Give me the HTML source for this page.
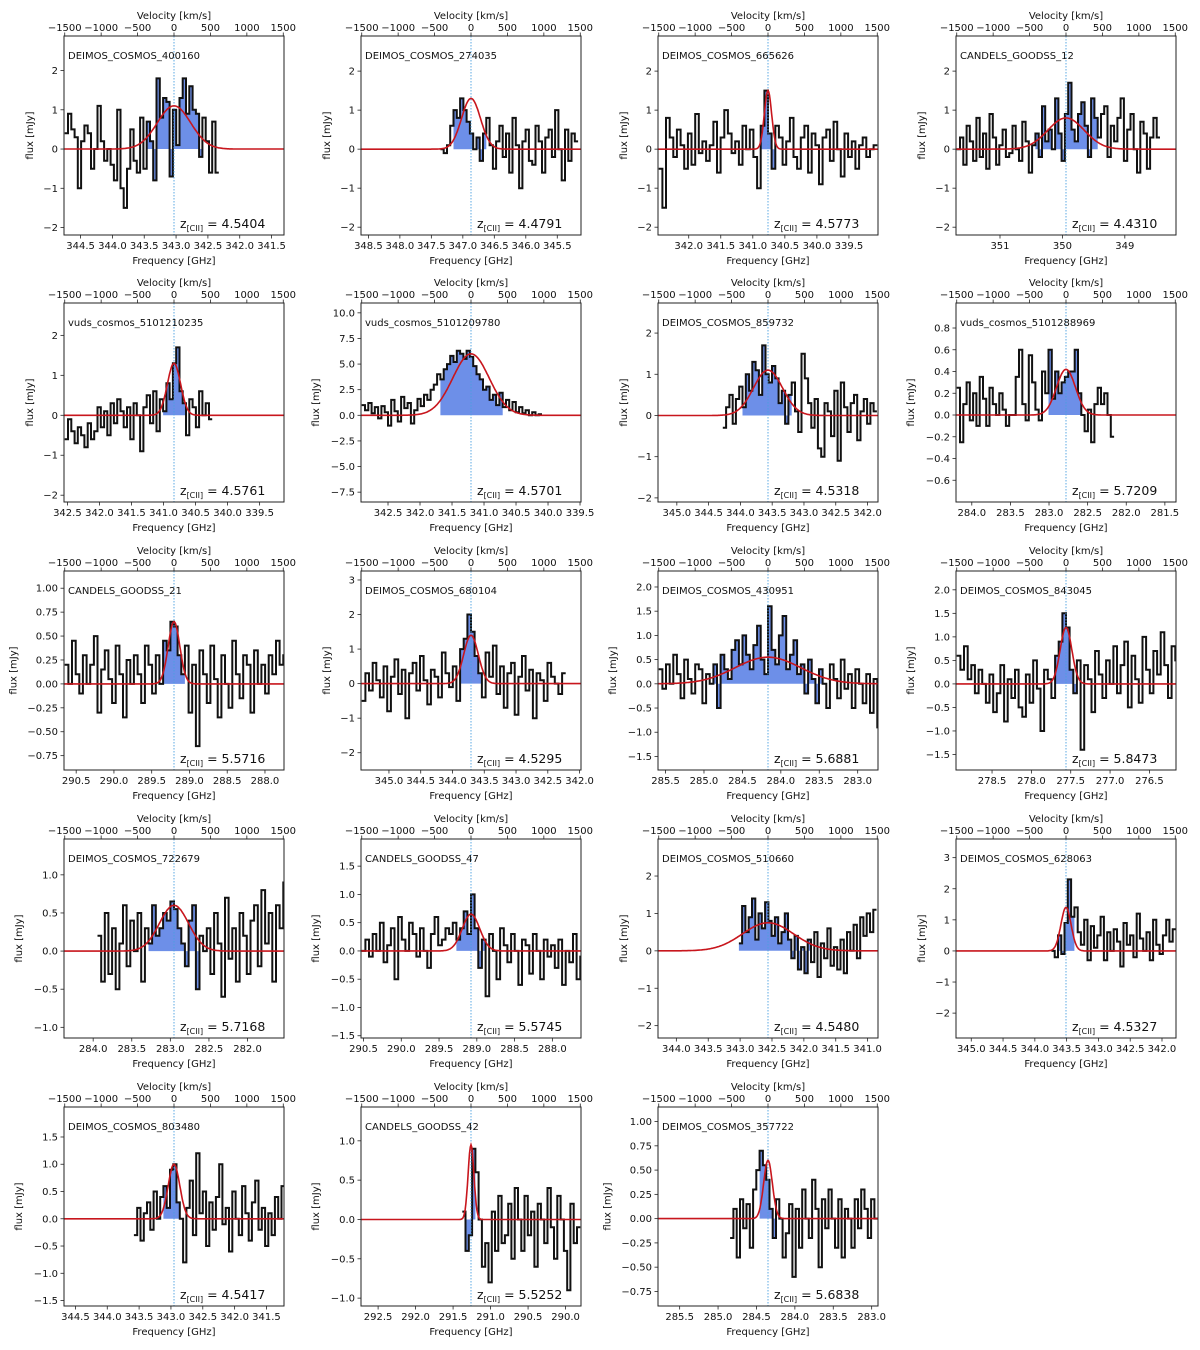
<!DOCTYPE html>
<html><head><meta charset="utf-8">
<style>
html,body{margin:0;padding:0;background:#fff;}
svg{display:block;font-family:"DejaVu Sans","Liberation Sans",sans-serif;}
</style></head>
<body>
<svg id="fig" width="1200" height="1350" viewBox="0 0 1200 1350" xmlns="http://www.w3.org/2000/svg"></svg>
<script>
const names = ["DEIMOS_COSMOS_400160","DEIMOS_COSMOS_274035","DEIMOS_COSMOS_665626","CANDELS_GOODSS_12",
"vuds_cosmos_5101210235","vuds_cosmos_5101209780","DEIMOS_COSMOS_859732","vuds_cosmos_5101288969",
"CANDELS_GOODSS_21","DEIMOS_COSMOS_680104","DEIMOS_COSMOS_430951","DEIMOS_COSMOS_843045",
"DEIMOS_COSMOS_722679","CANDELS_GOODSS_47","DEIMOS_COSMOS_510660","DEIMOS_COSMOS_628063",
"DEIMOS_COSMOS_803480","CANDELS_GOODSS_42","DEIMOS_COSMOS_357722"];
const redshifts = ["4.5404","4.4791","4.5773","4.4310","4.5761","4.5701","4.5318","5.7209","5.5716","4.5295","5.6881","5.8473","5.7168","5.5745","4.5480","4.5327","4.5417","5.5252","5.6838"];
const amps = [1.1,1.3,1.5,0.8,1.3,6.0,1.1,0.42,0.65,1.4,0.55,1.2,0.6,0.65,0.75,1.4,1.0,0.95,0.6];
const sigmas = [230,130,50,250,90,250,200,130,80,100,450,80,200,120,350,70,80,40,60];
const yMins = [-2.19,-2.2,-2.2,-2.2,-2.17,-8.46,-2.1,-0.8,-0.9,-2.5,-1.78,-1.83,-1.14,-1.54,-2.33,-2.8,-1.6,-1.1,-0.9];
const yMaxs = [2.88,2.9,2.9,2.9,2.81,10.96,2.73,1.03,1.18,3.26,2.33,2.4,1.47,1.98,2.99,3.6,2.05,1.43,1.15];
const yTickLo = [-2,-2,-2,-2,-2,-7.5,-2,-0.6,-0.75,-2,-1.5,-1.5,-1,-1.5,-2,-2,-1.5,-1,-0.75];
const yTickHi = [2,2,2,2,2,10,2,0.8,1,3,2,2,1,1.5,2,3,1.5,1,1];
const yTickStep = [1,1,1,1,1,2.5,1,0.2,0.25,1,0.5,0.5,0.5,0.5,1,1,0.5,0.5,0.25];
const fTickStep = [0.5,0.5,0.5,1,0.5,0.5,0.5,0.5,0.5,0.5,0.5,0.5,0.5,0.5,0.5,0.5,0.5,0.5,0.5];
const vStarts = [-1500,-420,-1500,-1500,-1500,-1500,-620,-1500,-1500,-1500,-1500,-1500,-1050,-1500,-400,-200,-550,-120,-520];
const dvs = [45,45,50,45,45,45,45,45,50,50,50,50,50,50,45,45,45,45,45];
const flux1 = [0.4,0.9,0.5,0.3,-1.0,0.2,0.6,0.4,-0.5,0.0,1.1,0.2,-0.3,0,-0.4,-0.8,1.0,-1.0,-1.5,-0.5,0.5,-0.3,-0.6,0.8,-0.5,0.7,0.2,-0.8,1.8,0.8,1.3,1.2,-0.7,1.0,0.1,1.3,1.8,0.9,1.6,1.0,0.9,-0.2,0.8,0.2,-0.6,0.7,-0.6];
const flux2 = [0.0,-0.1,0.1,0.6,1.0,0.8,1.3,1.0,0.7,0.4,0.0,0.3,-0.3,0.4,0.8,0.1,-0.5,0.2,0.6,-0.2,0.4,-0.6,0.8,0.1,-1.0,0.2,0.5,-0.3,-0.4,0.6,0.2,-0.6,0.3,0.5,-0.2,1.0,0.0,-0.8,0.5,-0.3,0.4,0.2];
const flux3 = [-0.5,-1.5,0.8,0.3,-0.2,0.5,0.1,-0.5,0.4,-0.4,0.9,-0.1,0.2,-0.3,0.1,0.7,-0.6,0.3,1.0,0.4,-0.1,0.2,-0.4,0.6,0.0,0.5,-0.2,-1.0,0.6,1.5,0.4,-0.5,0.6,0.3,-0.4,0.2,0.8,-0.2,-0.5,0.3,0.6,-0.6,0.4,0.1,-0.9,0.3,0.5,-0.3,0.7,0.0,-0.7,0.4,-0.2,0.2,-0.5,0.1,0.3,-0.2,0.0,0.1];
const flux4 = [0.0,0.3,-0.4,0.6,0.2,-0.3,0.8,-0.2,0.4,-0.5,0.9,0.3,-0.4,0.1,0.5,-0.2,-0.1,0.6,0.0,-0.3,0.7,0.2,-0.6,0.1,0.4,-0.2,1.1,0.2,0.5,0.0,1.3,0.4,-0.3,0.9,1.7,0.5,0.2,0.9,1.2,0.6,-0.2,1.3,0.8,0.3,0.9,1.1,-0.2,0.6,0.2,0.8,1.3,-0.3,0.5,0.9,0.0,-0.6,0.7,0.4,-0.5,0.3,0.8,0.3];
const flux5 = [-0.6,-0.1,-0.4,-0.7,-0.3,-0.5,-0.8,-0.2,-0.6,-0.4,0.2,-0.3,0.1,-0.5,0.3,-0.2,0.4,0.1,-0.3,0.2,-0.6,0.3,0.0,-0.9,0.2,0.5,-0.2,0.6,-0.4,0.4,0.1,0.8,0.4,1.3,1.7,0.6,0.3,-0.5,0.4,0.2,-0.3,0.6,0.0,0.3,-0.1];
const flux6 = [1.0,0.5,1.2,0.2,0.8,-0.3,0.9,0.3,-1.0,1.5,0.4,-0.6,1.8,0.7,1.2,-0.8,0.5,1.6,0.9,2.0,1.5,2.5,3.0,4.0,3.5,4.5,5.0,5.8,5.2,6.3,6.0,5.5,6.3,5.7,4.8,4.0,3.5,2.5,2.8,1.5,2.0,1.0,2.2,0.8,1.5,0.5,1.3,0.3,0.8,0.2,0.5,0.0,0.3,0.0,0.1];
const flux7 = [-0.3,0.2,0.5,-0.2,0.4,0.7,0.2,1.0,0.6,1.3,1.1,0.5,1.7,1.0,0.8,1.2,0.9,0.3,0.6,-0.2,0.5,0.8,0.1,-0.4,1.5,0.9,0.3,-0.3,0.4,-0.8,-1.0,0.3,0.1,-0.5,0.6,-1.1,0.8,0.2,-0.4,0.3,0.5,-0.6,0.1,0.4,-0.2,0.3,0.1];
const flux8 = [0.25,-0.25,0.1,0.3,-0.05,0.2,-0.1,0.35,0.15,-0.1,0.25,0.1,0.0,0.2,0.05,-0.1,0.0,0.0,0.35,0.6,0.1,-0.05,0.55,0.3,0.05,-0.05,0.4,0.2,0.6,0.15,0.4,0.2,0.3,0.35,0.4,0.4,0.6,0.2,0.0,-0.15,0.05,-0.25,0.1,0.25,0.1,0.2,0.0,-0.2];
const flux9 = [0.2,0.0,0.45,0.1,-0.1,0.3,0.0,0.2,0.5,-0.3,0.15,0.35,0.05,-0.2,0.4,0.1,-0.35,0.25,0.0,0.3,0.1,-0.2,0.4,0.2,-0.1,0.3,0.0,0.45,0.35,0.65,0.6,0.3,0.1,0.4,-0.3,0.2,-0.65,0.35,0.1,-0.2,0.4,0.05,-0.35,0.3,0.0,-0.25,0.45,0.1,-0.15,0.3,0.2,-0.3,0.35,0.0,0.2,-0.1,0.3,0.1,0.45,0.2,0.3];
const flux10 = [-0.5,0.3,-0.2,0.6,0.1,-0.4,0.5,-0.8,0.2,0.7,-0.3,0.4,-1.0,0.3,0.6,-0.2,0.8,0.1,-0.6,0.4,0.2,-0.4,0.9,0.3,-0.1,0.5,-0.5,1.0,1.3,2.0,1.5,0.8,0.3,-0.4,0.9,0.2,1.1,-0.3,0.5,-0.7,0.3,0.6,-0.9,0.2,0.8,-0.2,0.4,-1.0,0.3,0.1,-0.5,0.6,0.2,0.0,-0.3,0.3];
const flux11 = [0.3,-0.1,0.4,0.0,0.6,0.2,-0.3,0.5,0.1,-0.2,0.4,0.3,-0.4,0.2,0.0,0.4,-0.5,0.6,0.3,0.1,0.7,0.9,0.4,1.0,0.6,0.3,0.8,1.2,0.5,0.2,1.6,0.7,0.4,1.0,1.4,0.3,0.6,0.9,0.2,0.4,-0.2,0.5,0.1,-0.4,0.3,0.0,-0.5,0.4,0.1,-0.3,0.5,-0.1,0.2,-0.5,0.3,0.0,-0.4,0.2,-0.6,0.1,-0.9];
const flux12 = [0.6,0.3,0.8,0.1,0.4,-0.2,0.3,0.0,-0.4,0.2,-0.6,-0.2,0.4,-0.8,0.1,-0.3,0.3,-0.5,-0.7,0.2,-0.4,0.5,-0.1,-1.0,0.3,0.1,-0.3,0.6,0.9,1.5,1.2,0.3,-0.2,0.5,-1.4,0.4,0.1,-0.6,0.7,0.2,-0.3,0.5,0.0,0.8,-0.2,0.4,0.9,-0.5,0.6,0.1,-0.4,1.0,0.3,-0.2,0.7,0.2,1.1,0.4,-0.3,0.8,0.5];
const flux13 = [0.2,-0.4,0.5,-0.3,0.3,-0.5,0.1,0.6,-0.2,0.4,0.0,0.5,-0.4,0.3,0.1,0.6,0.2,0.3,0.5,0.4,0.65,0.55,0.3,0.1,-0.2,0.4,0.6,-0.5,0.2,0.0,0.3,-0.3,0.5,0.1,-0.6,0.7,-0.1,0.3,-0.4,0.5,0.2,-0.3,0.4,0.6,-0.2,0.8,0.1,0.5,-0.4,0.6,0.3,0.9];
const flux14 = [0.0,0.2,-0.1,0.3,0.0,0.5,-0.2,0.1,0.4,-0.5,0.6,0.2,0.0,0.5,0.3,-0.1,0.4,0.0,-0.3,0.3,0.6,0.1,0.2,0.4,0.3,0.5,0.2,0.4,0.7,0.3,1.0,0.4,-0.3,0.2,-0.8,0.3,0.0,-0.5,0.4,0.1,-0.2,0.3,0.0,-0.6,0.2,0.1,-0.4,0.3,0.0,-0.5,0.2,-0.1,0.1,-0.3,0.2,-0.6,0.0,-0.2,0.3,-0.5,-0.1];
const flux15 = [0.2,1.2,0.5,0.9,1.4,0.3,1.0,0.6,1.3,0.8,0.4,0.9,0.2,0.5,1.0,0.3,-0.2,0.4,-0.5,0.1,-0.6,0.3,-0.3,0.5,-0.7,0.2,-0.2,0.6,-0.4,0.1,-0.5,0.3,-0.6,0.5,0.0,0.7,-0.2,0.9,0.4,1.0,0.5,1.1];
const flux16 = [0.0,-0.2,0.5,-0.1,0.9,2.3,1.1,1.4,0.6,0.2,1.0,-0.3,0.8,0.1,0.5,1.1,-0.3,0.6,0.0,0.7,0.3,-0.5,0.9,0.2,0.5,-0.2,1.2,0.4,0.0,0.6,-0.3,1.0,0.2,-0.1,0.5,1.0,0.3,0.7];
const flux17 = [-0.3,0.2,-0.4,0.1,0.3,-0.2,0.5,0.0,0.4,0.6,0.2,0.9,1.0,0.3,0.0,-0.8,0.2,0.7,-0.3,1.2,0.1,0.5,-0.5,0.3,-0.2,0.4,1.0,-0.1,0.2,-0.6,0.5,0.0,-0.3,0.6,0.1,-0.4,0.3,0.7,-0.2,0.2,-0.5,0.1,-0.3,0.4,0.0,0.6];
const flux18 = [0.1,-0.4,-0.2,0.9,0.6,0.0,-0.6,-0.3,-0.8,0.1,-0.4,0.3,-0.3,-0.2,0.2,-0.5,0.4,0.0,-0.4,0.3,-0.2,0.1,-0.6,0.2,0.0,-0.3,0.4,-0.1,-0.5,0.3,0.0,-0.4,-0.9,0.2,-0.3,-0.1];
const flux19 = [-0.2,0.1,-0.4,0.2,-0.1,0.15,-0.3,0.3,0.5,0.7,0.55,0.4,0.1,-0.2,0.2,0.0,-0.4,-0.15,0.15,-0.6,0.1,-0.3,0.3,0.0,-0.2,0.4,0.1,-0.5,0.2,-0.1,0.3,0.0,-0.3,0.2,-0.4,0.1,0.0,-0.3,0.2,-0.1,0.3,0.1,-0.2,0.2,0.0];
const fluxes = [flux1,flux2,flux3,flux4,flux5,flux6,flux7,flux8,flux9,flux10,flux11,flux12,flux13,flux14,flux15,flux16,flux17,flux18,flux19];

const NS = "http://www.w3.org/2000/svg";
const svg = document.getElementById("fig");
const colX = [64,361,658,956];
const rowY = [36,303,571,839,1107];
const W = 220, H = 199, VMAX = 1510, C = 299792.458, NU = 1900.537;
function el(tag, attrs, parent){const e=document.createElementNS(NS,tag);for(const k in attrs)e.setAttribute(k,attrs[k]);(parent||svg).appendChild(e);return e;}
function fmt(v,d){const s=Math.abs(v).toFixed(d);return (v<-1e-9?"\u2212":"")+s;}

for(let p=0;p<19;p++){
  const x0=colX[p%4], y0=rowY[Math.floor(p/4)];
  const g=el("g",{});
  
  
  const vx=v=>x0+(v+VMAX)/(2*VMAX)*W;
  const ymin=yMins[p], ymax=yMaxs[p];
  const fy=f=>y0+(ymax-f)/(ymax-ymin)*H;
  const z=parseFloat(redshifts[p]); const f0=NU/(1+z);
  const fv=f=>C*(f0-f)/f0;
  const cid="clip"+p;
  const cp=el("clipPath",{id:cid},g); el("rect",{x:x0,y:y0,width:W,height:H},cp);
  const inner=el("g",{"clip-path":"url(#"+cid+")"},g);
  const fl=fluxes[p], vs=vStarts[p], dv=dvs[p], A=amps[p], S=sigmas[p];
  let fillD="";
  for(let i=0;i<fl.length;i++){const vc=vs+(i+0.5)*dv; if(Math.abs(vc)<=1.7*S){
    fillD+=`M${vx(vs+i*dv).toFixed(1)},${fy(0).toFixed(1)}V${fy(fl[i]).toFixed(1)}H${vx(vs+(i+1)*dv).toFixed(1)}V${fy(0).toFixed(1)}Z`;}}
  const fillEl=el("path",{d:fillD,fill:"#6d8fe8",stroke:"none"},inner);
  
  
  let d=`M${vx(vs).toFixed(1)},${fy(fl[0]).toFixed(1)}`;
  for(let i=0;i<fl.length;i++){d+=`H${vx(vs+(i+1)*dv).toFixed(1)}`; if(i+1<fl.length)d+=`V${fy(fl[i+1]).toFixed(1)}`;}
  const st=el("path",{d:d,fill:"none",stroke:"#111","stroke-width":2},inner);
  
  
  const zl=el("line",{x1:vx(0),x2:vx(0),y1:y0,y2:y0+H,stroke:"#4a9fe0","stroke-width":0.9,"stroke-dasharray":"1.5,1.5"},inner);
  
  
  let md="";
  for(let v=-VMAX;v<=VMAX;v+=10){const m=A*Math.exp(-v*v/(2*S*S));md+=(md?"L":"M")+vx(v).toFixed(1)+","+fy(m).toFixed(1);}
  const ml=el("path",{d:md,fill:"none",stroke:"#c8161d","stroke-width":1.6},inner);
  
  
  const fr=el("rect",{x:x0,y:y0,width:W,height:H,fill:"none",stroke:"#222","stroke-width":1},g);
  
  
  const dec=yTickStep[p]===1?0:(yTickStep[p]===0.25?2:1);
  let maxc=0;
  const nY=Math.round((yTickHi[p]-yTickLo[p])/yTickStep[p]);
  for(let k=0;k<=nY;k++){
    const t=yTickLo[p]+k*yTickStep[p];
    const y=fy(t); el("line",{x1:x0-3.5,x2:x0,y1:y,y2:y,stroke:"#222","stroke-width":0.8},g);
    const s=fmt(t,dec); maxc=Math.max(maxc,s.length);
    const tx=el("text",{x:x0-6,y:y+3.5,"font-size":10,"text-anchor":"end",fill:"#111"},g); tx.textContent=s;
    
    
  }
  const yl=el("text",{x:0,y:0,"font-size":10,"text-anchor":"middle",fill:"#111",transform:`translate(${x0-20-5.5*maxc},${y0+H/2}) rotate(-90)`},g);
  yl.textContent="flux [mJy]";
  
  
  for(let v=-1500;v<=1500;v+=500){
    const x=vx(v); el("line",{x1:x,x2:x,y1:y0-3.5,y2:y0,stroke:"#222","stroke-width":0.8},g);
    const tx=el("text",{x:x,y:y0-5,"font-size":10,"text-anchor":"middle",fill:"#111"},g); tx.textContent=fmt(v,0);
    
    
  }
  const vt=el("text",{x:x0+W/2,y:y0-17,"font-size":10,"text-anchor":"middle",fill:"#111"},g); vt.textContent="Velocity [km/s]";
  
  
  const fs=fTickStep[p];
  const kStart=Math.ceil((f0-4)/fs), kEnd=Math.floor((f0+4)/fs);
  for(let k=kStart;k<=kEnd;k++){
    const f=k*fs;
    const v=fv(f); if(Math.abs(v)>VMAX-3)continue;
    const x=vx(v); el("line",{x1:x,x2:x,y1:y0+H,y2:y0+H+3.5,stroke:"#222","stroke-width":0.8},g);
    const tx=el("text",{x:x,y:y0+H+14,"font-size":10,"text-anchor":"middle",fill:"#111"},g); tx.textContent=f.toFixed(fs===1?0:1);
    
    
  }
  const ft=el("text",{x:x0+W/2,y:y0+H+29,"font-size":10,"text-anchor":"middle",fill:"#111"},g); ft.textContent="Frequency [GHz]";
  
  
  const nl=el("text",{x:x0+4,y:y0+23,"font-size":10,fill:"#111"},g); nl.textContent=names[p];
  
  
  const zt=el("text",{x:vx(0)+6,y:y0+H-7,"font-size":12.5,fill:"#111"},g);
  
  
  const t1=el("tspan",{},zt); t1.textContent="z";
  const t2=el("tspan",{"font-size":8,dy:3},zt); t2.textContent="[CII]";
  const t3=el("tspan",{dy:-3},zt); t3.textContent=" = "+redshifts[p];
}
</script>
</body></html>
